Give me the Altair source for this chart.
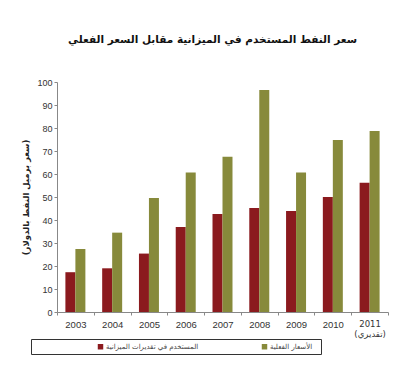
import altair as alt
import pandas as pd

years = ["2003", "2004", "2005", "2006", "2007", "2008", "2009", "2010", "2011"]
budget_price = [17.3, 19.0, 25.4, 37.0, 42.6, 45.2, 43.9, 50.0, 56.2]
actual_price = [27.4, 34.5, 49.6, 60.7, 67.5, 96.5, 60.7, 74.8, 78.7]
series_names = ["المستخدم في تقديرات الميزانية", "الأسعار الفعلية"]
series_colors = ["#8B1A1E", "#878A3B"]
title_text = "سعر النفط المستخدم في الميزانية مقابل السعر الفعلي"
y_title = "(سعر برميل النفط بالدولار)"
estimate_note = "(تقديري)"

rows = []
for y, b, a in zip(years, budget_price, actual_price):
    rows.append({"year": y, "series": series_names[0], "value": b})
    rows.append({"year": y, "series": series_names[1], "value": a})
df = pd.DataFrame(rows)

label_expr = f"datum.value == '2011' ? ['2011', '{estimate_note}'] : datum.value"
is_2011 = "datum.value == '2011'"

chart = alt.Chart(df).mark_bar().encode(
    x=alt.X("year:N", sort=years,
            scale=alt.Scale(paddingInner=0, paddingOuter=0),
            axis=alt.Axis(title=None, labelAngle=0, labelExpr=label_expr,
                          tickBand="extent", tickSize=3, labelPadding=4,
                          labelFontSize={"condition": {"test": is_2011, "value": 8.5},
                                         "value": 9.5},
                          labelColor="#333",
                          labelFont={"condition": {"test": is_2011,
                                                   "value": "DejaVu Sans"},
                                     "value": "Liberation Sans"},
                          domainColor="#888", tickColor="#888")),
    xOffset=alt.XOffset("series:N", sort=series_names,
                        scale=alt.Scale(paddingInner=0, paddingOuter=0.84)),
    y=alt.Y("value:Q",
            scale=alt.Scale(domain=[0, 100], nice=False),
            axis=alt.Axis(title=y_title, values=list(range(0, 101, 10)),
                          grid=False, tickSize=3, labelFontSize=9,
                          labelColor="#333", labelFont="Liberation Sans",
                          domainColor="#888", tickColor="#888",
                          titleFontSize=8.5, titleFont="DejaVu Sans",
                          titleFontWeight="bold", titlePadding=6,
                          titleColor="#222")),
    color=alt.Color("series:N", sort=series_names,
                    scale=alt.Scale(domain=series_names, range=series_colors),
                    legend=alt.Legend(title=" ", titleOrient="right",
                                      titlePadding=5, titleFontSize=8,
                                      orient="none",
                                      legendX=-26, legendY=257,
                                      direction="horizontal",
                                      symbolType="square", symbolSize=30,
                                      symbolStrokeWidth=0, symbolOffset=62,
                                      labelFontSize=7, labelColor="#444",
                                      labelFont="DejaVu Sans", labelOffset=2,
                                      columnPadding=0, padding=4,
                                      strokeColor="#333", fillColor="white",
                                      labelLimit=300)),
).properties(
    width=331,
    height=230,
    title=alt.TitleParams(title_text, fontSize=10.5, font="DejaVu Sans",
                          fontWeight="bold", color="#111", anchor="middle",
                          offset=33, dx=-10),
    autosize=alt.AutoSizeParams(type="none"),
    padding={"left": 49, "top": 74, "right": 4, "bottom": 49},
).configure_view(stroke=None)

chart.save("out.html", embed_options={"renderer": "svg", "actions": False})
